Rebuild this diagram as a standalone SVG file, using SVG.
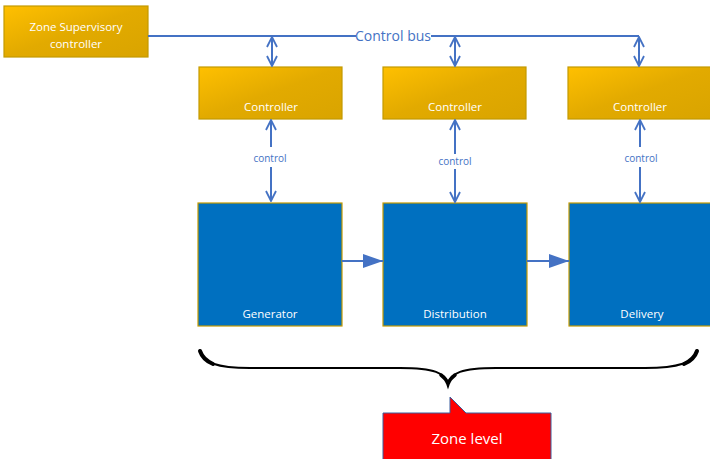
<svg xmlns="http://www.w3.org/2000/svg" width="710" height="459" viewBox="0 0 710 459">
<defs>
<linearGradient id="gold" x1="0" y1="0" x2="1" y2="1">
<stop offset="0" stop-color="#FFC000"/>
<stop offset="0.5" stop-color="#E2AA00"/>
<stop offset="1" stop-color="#D9A400"/>
</linearGradient>
<marker id="open" viewBox="0 0 12 12" refX="11" refY="6" markerWidth="12" markerHeight="12" markerUnits="userSpaceOnUse" orient="auto-start-reverse">
<path d="M1,1 L11,6 L1,11" fill="none" stroke="#4472C4" stroke-width="1.8"/>
</marker>
<marker id="tri" viewBox="0 0 20 14" refX="20" refY="7" markerWidth="20" markerHeight="14" markerUnits="userSpaceOnUse" orient="auto">
<path d="M0,0 L20,7 L0,14 Z" fill="#4472C4"/>
</marker>
</defs>
<style>
.ctrl{fill:url(#gold);stroke:#C49A00;stroke-width:1.2}
.blk{fill:#0070C0;stroke:#C49A00;stroke-width:1.2}
.wt{fill:#FFFFFF;font-family:"Open Sans","Liberation Sans",sans-serif;font-size:11.5px;text-anchor:middle}
.lbl{fill:#4472C4;font-family:"Open Sans","Liberation Sans",sans-serif;text-anchor:middle}
.ln{stroke:#4472C4;stroke-width:2;fill:none}
</style>
<g id="zone-supervisory">
<rect class="ctrl" x="4" y="6" width="144" height="51"/>
<text class="wt" x="76" y="31">Zone Supervisory</text>
<text class="wt" x="76" y="48">controller</text>
</g>
<g id="controller1">
<rect class="ctrl" x="199" y="67" width="143" height="52"/>
<text class="wt" x="271" y="111">Controller</text>
</g>
<g id="controller2">
<rect class="ctrl" x="383" y="67" width="143" height="52"/>
<text class="wt" x="455" y="111">Controller</text>
</g>
<g id="controller3">
<rect class="ctrl" x="568" y="67" width="143" height="52"/>
<text class="wt" x="640" y="111">Controller</text>
</g>
<g id="generator">
<rect class="blk" x="198" y="203" width="144" height="123"/>
<text class="wt" x="270" y="318">Generator</text>
</g>
<g id="distribution">
<rect class="blk" x="383" y="203" width="144" height="123"/>
<text class="wt" x="455" y="318">Distribution</text>
</g>
<g id="delivery">
<rect class="blk" x="569" y="203" width="143" height="123"/>
<text class="wt" x="642" y="318">Delivery</text>
</g>
<g id="connectors">
<path class="ln" d="M148,36 H356"/>
<path class="ln" d="M431,36 H639"/>
<text class="lbl" x="393" y="41" font-size="14">Control bus</text>
<path class="ln" d="M272,37 V66" marker-start="url(#open)" marker-end="url(#open)"/>
<path class="ln" d="M455,37 V66" marker-start="url(#open)" marker-end="url(#open)"/>
<path class="ln" d="M639,37 V66" marker-start="url(#open)" marker-end="url(#open)"/>
<path class="ln" d="M271,120 V147" marker-start="url(#open)"/>
<path class="ln" d="M271,167 V201" marker-end="url(#open)"/>
<text class="lbl" x="270" y="162" font-size="10">control</text>
<path class="ln" d="M455,120 V154" marker-start="url(#open)"/>
<path class="ln" d="M455,169 V202" marker-end="url(#open)"/>
<text class="lbl" x="455" y="165" font-size="10">control</text>
<path class="ln" d="M640,120 V147" marker-start="url(#open)"/>
<path class="ln" d="M640,167 V202" marker-end="url(#open)"/>
<text class="lbl" x="641" y="162" font-size="10">control</text>
<path class="ln" d="M342,261 H383" marker-end="url(#tri)"/>
<path class="ln" d="M527,261 H569" marker-end="url(#tri)"/>
</g>
<g id="brace">
<path d="M200,352 C204,362 215,368 250,368 H400 C435,368 445,373 448,384 C451,373 461,368 496,368 H645 C680,368 693,362 697,352" fill="none" stroke="#000000" stroke-width="2"/>
<path d="M200,351 C202,357 206,361 213,364" fill="none" stroke="#000" stroke-width="4" stroke-linecap="round"/>
<path d="M697,351 C695,357 691,361 684,364" fill="none" stroke="#000" stroke-width="4" stroke-linecap="round"/>
<path d="M441,375 C445,378 447,381 448,384 C449,381 451,378 455,375" fill="none" stroke="#000" stroke-width="3.5" stroke-linecap="round"/>
</g>
<g id="zone-level">
<path d="M383,413 H450 V397 L466,413 H551 V462 H383 Z" fill="#FF0000" stroke="#3B5E9E" stroke-width="1"/>
<text x="467" y="444" fill="#FFFFFF" font-family="'Open Sans','Liberation Sans',sans-serif" font-size="15" text-anchor="middle">Zone level</text>
</g>
</svg>
